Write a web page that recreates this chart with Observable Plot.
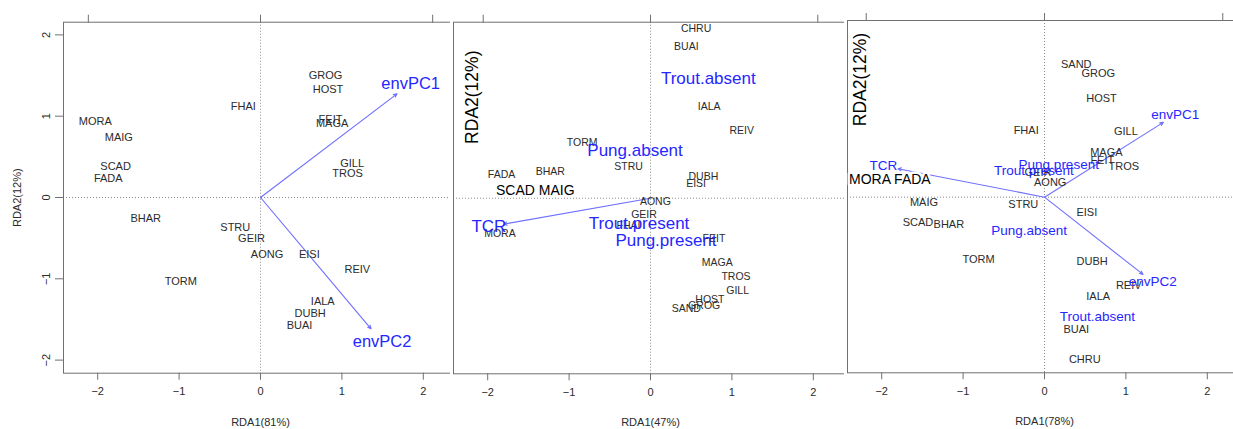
<!DOCTYPE html>
<html><head><meta charset="utf-8">
<script src="https://cdn.jsdelivr.net/npm/d3@7"></script>
<script src="https://cdn.jsdelivr.net/npm/@observablehq/plot@0.6"></script>
<style>
html,body{margin:0;padding:0;background:#fff;overflow:hidden;}
#wrap{position:relative;width:1233px;height:429px;overflow:hidden;}
#wrap svg{position:absolute;top:0;}
</style></head><body><div id="wrap"></div>
<script>
const FONT = "'Liberation Sans', Arial, Helvetica, sans-serif";

// ---------- Panel 1 : RDA1(81%) ----------
const p1SiteNames = ["GROG","HOST","FHAI","FEIT","MAGA","MORA","MAIG","SCAD","FADA","GILL","TROS","BHAR","STRU","GEIR","AONG","EISI","REIV","TORM","IALA","DUBH","BUAI"];
const p1SiteX = [0.80,0.83,-0.21,0.86,0.88,-2.03,-1.74,-1.78,-1.87,1.125,1.07,-1.41,-0.31,-0.11,0.08,0.60,1.19,-0.98,0.765,0.61,0.48];
const p1SiteY = [1.50,1.33,1.12,0.96,0.91,0.93,0.74,0.385,0.24,0.42,0.29,-0.26,-0.365,-0.51,-0.705,-0.705,-0.89,-1.03,-1.275,-1.43,-1.575];
const p1VecNames = ["envPC1","envPC2"];
const p1VecX = [1.677,1.358];
const p1VecY = [1.275,-1.615];
const p1CentNames = [];
const p1CentX = [];
const p1CentY = [];
const p1OverNames = [];
const p1OverX = [];
const p1OverY = [];

// ---------- Panel 2 : RDA1(47%) ----------
const p2SiteNames = ["CHRU","BUAI","IALA","REIV","TORM","STRU","FADA","BHAR","DUBH","EISI","AONG","GEIR","FHAI","MORA","FEIT","MAGA","TROS","GILL","HOST","GROG","SAND"];
const p2SiteX = [0.56,0.44,0.72,1.12,-0.84,-0.27,-1.83,-1.23,0.65,0.56,0.06,-0.08,-0.27,-1.85,0.78,0.82,1.05,1.07,0.73,0.66,0.44];
const p2SiteY = [2.08,1.87,1.13,0.83,0.68,0.39,0.29,0.33,0.27,0.185,-0.04,-0.2,-0.335,-0.44,-0.5,-0.79,-0.97,-1.14,-1.25,-1.32,-1.36];
const p2VecNames = ["TCR"];
const p2VecX = [-1.805];
const p2VecY = [-0.32];
const p2CentNames = ["Trout.absent","Pung.absent","Trout.present","Pung.present"];
const p2CentX = [0.71,-0.19,-0.14,0.19];
const p2CentY = [1.476,0.587,-0.31,-0.52];
const p2OverNames = ["SCAD MAIG"];
const p2OverX = [-1.415];
const p2OverY = [0.095];

// ---------- Panel 3 : RDA1(78%) ----------
const p3SiteNames = ["SAND","GROG","HOST","FHAI","GILL","MAGA","FEIT","TROS","GEIR","AONG","MAIG","STRU","EISI","SCAD","BHAR","TORM","DUBH","REIV","IALA","BUAI","CHRU"];
const p3SiteX = [0.39,0.66,0.70,-0.225,1.0,0.76,0.71,0.975,-0.08,0.07,-1.48,-0.26,0.52,-1.555,-1.175,-0.81,0.585,1.035,0.66,0.39,0.495];
const p3SiteY = [1.63,1.525,1.22,0.82,0.81,0.55,0.45,0.38,0.30,0.18,-0.06,-0.09,-0.185,-0.315,-0.335,-0.77,-0.79,-1.085,-1.22,-1.63,-2.0];
const p3VecNames = ["envPC1","envPC2","TCR"];
const p3VecX = [1.46,1.21,-1.80];
const p3VecY = [0.92,-0.95,0.35];
const p3CentNames = ["Pung.present","Trout.present","Pung.absent","Trout.absent"];
const p3CentX = [0.175,-0.13,-0.19,0.65];
const p3CentY = [0.40,0.32,-0.41,-1.475];
const p3OverNames = ["MORA FADA"];
const p3OverX = [-1.90];
const p3OverY = [0.214];

// ---------- axes ----------
const xTitles = ["RDA1(81%)","RDA1(47%)","RDA1(78%)"];
const yTitle = "RDA2(12%)";
const xTicks = [-2,-1,0,1,2];
const yTicks = [-2,-1,0,1,2];
const topTicks = [-1,0,1];
const topTickScale = [2.115,2.055,2.19];

const BLUE = "#2626ff";
const ARROW = "#6f6fff";
const INK = "#2b2b2b";
const fmt = d3.format("d");

function rows(names, xs, ys) { return names.map((n, i) => ({n, x: xs[i], y: ys[i]})); }

function panel(cfg) {
  const sites = rows(cfg.siteNames, cfg.siteX, cfg.siteY);
  const vecs = rows(cfg.vecNames, cfg.vecX, cfg.vecY);
  const cents = rows(cfg.centNames, cfg.centX, cfg.centY);
  const overs = rows(cfg.overNames, cfg.overX, cfg.overY);
  const marks = [
    Plot.ruleX([0], {stroke: "#8a8a8a", strokeDasharray: "1,2"}),
    Plot.ruleY([0], {stroke: "#8a8a8a", strokeDasharray: "1,2"}),
    Plot.frame({stroke: "#707070"}),
    Plot.axisX({ticks: xTicks, tickFormat: fmt, tickSize: 7, tickPadding: 7, fontSize: 11, stroke: "#707070", color: INK, label: null}),
    Plot.axisX({anchor: "top", ticks: topTicks.map(t => t * cfg.topScale), tickSize: 8, tickFormat: () => "", stroke: "#707070", label: null}),
    Plot.text([cfg.xTitle], {frameAnchor: "bottom", dy: 49, fontSize: 11, fill: INK, textAnchor: "middle", lineAnchor: "middle"}),
    Plot.arrow(vecs, {x1: () => 0, y1: () => 0, x2: "x", y2: "y", stroke: ARROW, strokeWidth: 1.1, headLength: 5, headAngle: 50}),
    Plot.text(sites, {x: "x", y: "y", text: "n", fontSize: cfg.siteSize, fill: INK}),
    Plot.text(cents, {x: "x", y: "y", text: "n", fontSize: cfg.blueSize, fill: BLUE}),
    Plot.text(vecs, {x: d => d.x * 1.1, y: d => d.y * 1.1, text: "n", fontSize: cfg.blueSize, fill: BLUE}),
    Plot.text(overs, {x: "x", y: "y", text: "n", fontSize: 14, fill: "#000", stroke: "white", strokeWidth: 5})
  ];
  if (cfg.yAxis) {
    marks.push(Plot.axisY({ticks: yTicks, tickFormat: fmt, tickSize: 8, tickRotate: -90, tickPadding: 6, fontSize: 11, stroke: "#707070", color: INK, label: null}));
    marks.push(Plot.text([yTitle], {frameAnchor: "left", dx: -46, rotate: -90, fontSize: 11, fill: INK, textAnchor: "middle", lineAnchor: "middle"}));
  } else {
    marks.push(Plot.text([yTitle], {frameAnchor: "top-left", dx: cfg.titleDx, dy: cfg.titleDy, rotate: -90, fontSize: 17.5, fill: "#000", textAnchor: "middle", lineAnchor: "middle"}));
  }
  const svg = Plot.plot({
    width: cfg.marginLeft + 394 + 6,
    height: 429,
    marginLeft: cfg.marginLeft,
    marginRight: 6,
    marginTop: cfg.top,
    marginBottom: 429 - cfg.bottom,
    style: {background: "white", fontFamily: FONT, overflow: "visible"},
    x: {domain: [-2.42, 2.42]},
    y: {domain: cfg.yDomain, axis: cfg.yAxis ? undefined : null},
    marks
  });
  svg.style.left = cfg.left + "px";
  document.getElementById("wrap").appendChild(svg);
}

panel({siteNames: p1SiteNames, siteX: p1SiteX, siteY: p1SiteY, vecNames: p1VecNames, vecX: p1VecX, vecY: p1VecY,
  centNames: p1CentNames, centX: p1CentX, centY: p1CentY, overNames: p1OverNames, overX: p1OverX, overY: p1OverY,
  xTitle: xTitles[0], topScale: topTickScale[0], siteSize: 11, blueSize: 16.5, yAxis: true,
  left: 0, marginLeft: 63, top: 21.7, bottom: 372.7, yDomain: [-2.161, 2.156]});

panel({siteNames: p2SiteNames, siteX: p2SiteX, siteY: p2SiteY, vecNames: p2VecNames, vecX: p2VecX, vecY: p2VecY,
  centNames: p2CentNames, centX: p2CentX, centY: p2CentY, overNames: p2OverNames, overX: p2OverX, overY: p2OverY,
  xTitle: xTitles[1], topScale: topTickScale[1], siteSize: 10.5, blueSize: 17, yAxis: false, titleDx: 19, titleDy: 75,
  left: 450.3, marginLeft: 3, top: 21.7, bottom: 373.3, yDomain: [-2.16, 2.165]});

panel({siteNames: p3SiteNames, siteX: p3SiteX, siteY: p3SiteY, vecNames: p3VecNames, vecX: p3VecX, vecY: p3VecY,
  centNames: p3CentNames, centX: p3CentX, centY: p3CentY, overNames: p3OverNames, overX: p3OverX, overY: p3OverY,
  xTitle: xTitles[2], topScale: topTickScale[2], siteSize: 11, blueSize: 13.5, yAxis: false, titleDx: 13, titleDy: 59,
  left: 844.3, marginLeft: 3, top: 20, bottom: 372.3, yDomain: [-2.16, 2.173]});
</script>
</body></html>
